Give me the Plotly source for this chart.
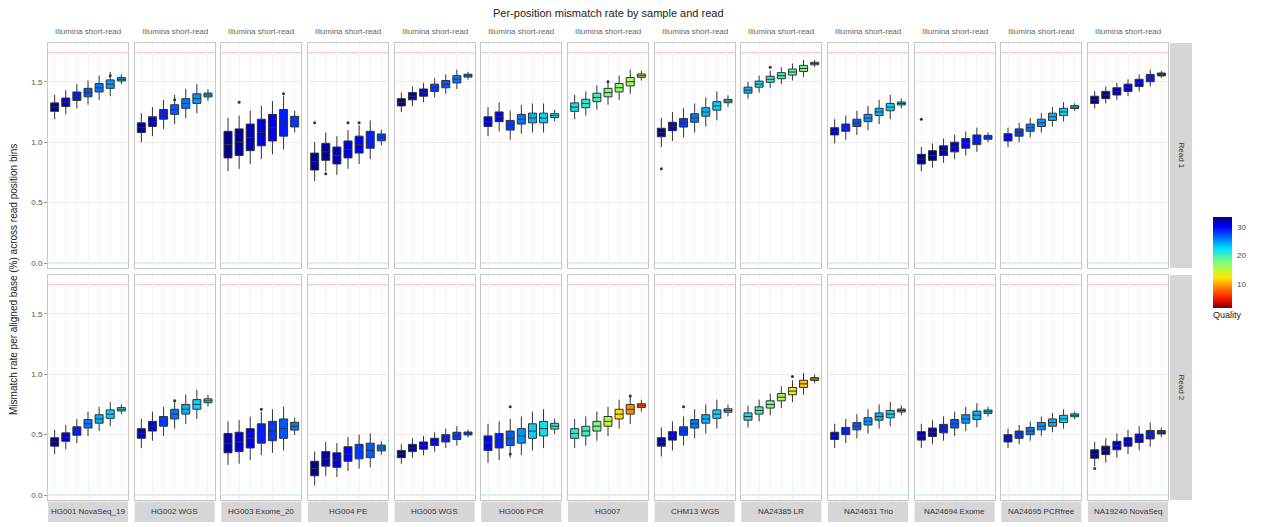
import plotly.graph_objects as go
from plotly.subplots import make_subplots

# ---------------- data ----------------
title_text = "Per-position mismatch rate by sample and read"
y_title = "Mismatch rate per aligned base (%) across read position bins"
top_strip = "Illumina short-read"
row_labels = ["Read 1", "Read 2"]
panels = ["HG001 NovaSeq_19", "HG002 WGS", "HG003 Exome_20", "HG004 PE",
          "HG005 WGS", "HG006 PCR", "HG007", "CHM13 WGS", "NA24385 LR",
          "NA24631 Trio", "NA24694 Exome", "NA24695 PCRfree", "NA19240 NovaSeq"]
bins = [1, 2, 3, 4, 5, 6, 7]
y_ticks = [0, 0.5, 1.0, 1.5]
y_tick_text = ["0.0", "0.5", "1.0", "1.5"]
ref_low = 0.0
ref_high = 1.74

med_r1 = [
    [1.29, 1.33, 1.38, 1.41, 1.45, 1.48, 1.52],
    [1.12, 1.17, 1.23, 1.27, 1.32, 1.36, 1.39],
    [0.98, 1.00, 1.04, 1.08, 1.12, 1.16, 1.17],
    [0.84, 0.92, 0.89, 0.94, 0.98, 1.02, 1.04],
    [1.33, 1.38, 1.41, 1.45, 1.48, 1.52, 1.55],
    [1.17, 1.21, 1.14, 1.19, 1.20, 1.20, 1.22],
    [1.29, 1.32, 1.37, 1.41, 1.45, 1.50, 1.55],
    [1.08, 1.13, 1.16, 1.20, 1.25, 1.30, 1.34],
    [1.43, 1.48, 1.52, 1.55, 1.58, 1.61, 1.65],
    [1.09, 1.12, 1.16, 1.20, 1.25, 1.29, 1.32],
    [0.86, 0.89, 0.93, 0.96, 0.99, 1.02, 1.04],
    [1.04, 1.08, 1.12, 1.16, 1.21, 1.25, 1.29],
    [1.35, 1.39, 1.42, 1.45, 1.49, 1.53, 1.56],
]
med_r2 = [
    [0.44, 0.48, 0.53, 0.59, 0.63, 0.67, 0.71],
    [0.51, 0.57, 0.61, 0.67, 0.71, 0.75, 0.78],
    [0.43, 0.44, 0.47, 0.51, 0.53, 0.55, 0.57],
    [0.22, 0.30, 0.29, 0.34, 0.36, 0.37, 0.39],
    [0.34, 0.39, 0.41, 0.44, 0.47, 0.49, 0.51],
    [0.43, 0.45, 0.47, 0.49, 0.53, 0.55, 0.57],
    [0.51, 0.53, 0.57, 0.61, 0.67, 0.71, 0.74],
    [0.44, 0.49, 0.53, 0.59, 0.63, 0.67, 0.70],
    [0.65, 0.70, 0.75, 0.81, 0.86, 0.92, 0.96],
    [0.49, 0.53, 0.57, 0.61, 0.65, 0.67, 0.70],
    [0.49, 0.52, 0.55, 0.59, 0.63, 0.66, 0.69],
    [0.47, 0.50, 0.53, 0.57, 0.60, 0.63, 0.66],
    [0.34, 0.37, 0.41, 0.44, 0.47, 0.50, 0.52],
]
# half box heights (IQR / 2) per panel
iqr_r1 = [0.035, 0.04, 0.11, 0.07, 0.03, 0.04, 0.035, 0.035, 0.025, 0.03, 0.04, 0.03, 0.03]
iqr_r2 = [0.035, 0.04, 0.08, 0.06, 0.03, 0.06, 0.04, 0.035, 0.03, 0.03, 0.035, 0.03, 0.035]
# whisker reach per panel
wsk_r1 = [0.10, 0.12, 0.22, 0.16, 0.08, 0.12, 0.10, 0.12, 0.07, 0.10, 0.10, 0.08, 0.07]
wsk_r2 = [0.10, 0.12, 0.18, 0.14, 0.08, 0.16, 0.12, 0.12, 0.09, 0.10, 0.10, 0.08, 0.10]
# mean quality (colour) per box
q_r1 = [
    [33, 31, 29, 27, 26, 25, 24],
    [33, 31, 29, 27, 26, 25, 24],
    [33, 33, 32, 31, 30, 29, 28],
    [33, 33, 32, 31, 30, 29, 28],
    [33, 32, 30, 28, 27, 26, 25],
    [31, 30, 28, 26, 24, 23, 22],
    [22, 21, 20, 18, 17, 16, 15],
    [32, 30, 28, 26, 24, 23, 22],
    [24, 22, 21, 20, 19, 18, 18],
    [31, 29, 27, 25, 24, 23, 22],
    [33, 33, 32, 31, 30, 29, 28],
    [30, 28, 26, 25, 24, 23, 22],
    [33, 33, 32, 31, 30, 29, 28],
]
q_r2 = [
    [33, 31, 29, 26, 24, 23, 22],
    [32, 30, 28, 26, 24, 23, 22],
    [32, 31, 30, 29, 28, 27, 26],
    [33, 32, 31, 30, 28, 27, 26],
    [33, 32, 31, 30, 29, 28, 27],
    [30, 29, 27, 25, 23, 22, 21],
    [21, 20, 18, 15, 12, 9, 7],
    [32, 30, 28, 26, 24, 23, 22],
    [22, 20, 18, 16, 13, 11, 10],
    [31, 29, 27, 25, 24, 23, 22],
    [32, 31, 29, 27, 25, 24, 23],
    [30, 28, 26, 25, 24, 23, 22],
    [33, 33, 32, 31, 30, 29, 28],
]
# outliers: (row, panel index, bin, value)
outliers = [
    (1, 1, 4, 1.35), (1, 2, 2, 1.33), (1, 2, 6, 1.40), (1, 3, 1, 1.16), (1, 3, 4, 1.16),
    (1, 3, 5, 1.16), (1, 3, 2, 0.74), (1, 6, 4, 1.50), (1, 7, 1, 0.78), (1, 10, 1, 1.19),
    (1, 0, 6, 1.55), (1, 8, 3, 1.62),
    (2, 1, 4, 0.78), (2, 2, 4, 0.71), (2, 5, 3, 0.73), (2, 5, 3, 0.34), (2, 7, 3, 0.73),
    (2, 12, 1, 0.22), (2, 8, 5, 0.98), (2, 6, 6, 0.82),
]
q_min, q_max = 1.5, 33.5
q_ticks = [10, 20, 30]
q_title = "Quality"

# ---------------- colours ----------------
jet = [[0.0, "#00007f"], [0.11, "#0000ff"], [0.34, "#00dcff"], [0.5, "#7dff7a"],
       [0.66, "#ffea00"], [0.89, "#ff1a00"], [1.0, "#7f0000"]]
jet_r = [[round(1 - p, 4), c] for p, c in reversed(jet)]


def hex2rgb(h):
    h = h.lstrip("#")
    return tuple(int(h[i:i + 2], 16) for i in (0, 2, 4))


def qcolor(v):
    f = min(max((v - q_min) / (q_max - q_min), 0), 1)
    for (p0, c0), (p1, c1) in zip(jet_r[:-1], jet_r[1:]):
        if p0 <= f <= p1:
            t = 0 if p1 == p0 else (f - p0) / (p1 - p0)
            a, b = hex2rgb(c0), hex2rgb(c1)
            return "rgb(%d,%d,%d)" % tuple(round(a[i] + (b[i] - a[i]) * t) for i in range(3))
    return jet_r[-1][1]


# ---------------- figure ----------------
OFF = 8  # page body margin
W, H = 1270 - OFF, 527 - OFF
ml, mt = 48 - OFF, 43 - OFF
mr = W - (1168 - OFF)
mb = H - (500 - OFF)
pw, ph = W - ml - mr, H - mt - mb
ncol = len(panels)


def px_x(page_x):
    return (page_x - OFF - ml) / pw


def px_y(page_y):
    return (H - mb - (page_y - OFF)) / ph


fig = make_subplots(rows=2, cols=ncol, horizontal_spacing=6.67 / pw, vertical_spacing=7 / ph)

rows_data = [(med_r1, iqr_r1, wsk_r1, q_r1), (med_r2, iqr_r2, wsk_r2, q_r2)]
for r, (meds, iqrs, wsks, qs) in enumerate(rows_data, start=1):
    for c in range(ncol):
        for i, b in enumerate(bins):
            m = meds[c][i]
            h = iqrs[c] if i < len(bins) - 1 else iqrs[c] * 0.4
            w = wsks[c] if i < len(bins) - 1 else wsks[c] * 0.4
            fig.add_trace(go.Box(
                x=[b], q1=[m - h], median=[m], q3=[m + h],
                lowerfence=[m - w], upperfence=[m + w],
                fillcolor=qcolor(qs[c][i]), line=dict(color="#333333", width=1),
                width=0.72, whiskerwidth=0, boxpoints=False, showlegend=False,
                hoverinfo="skip"), row=r, col=c + 1)

for r in (1, 2):
    for c in range(ncol):
        pts = [(b, v) for (rr, p, b, v) in outliers if rr == r and p == c]
        if pts:
            fig.add_trace(go.Scatter(x=[p[0] for p in pts], y=[p[1] for p in pts], mode="markers",
                                     marker=dict(color="#333333", size=3), showlegend=False,
                                     hoverinfo="skip"), row=r, col=c + 1)

# reference lines
for r in (1, 2):
    for c in range(ncol):
        k = (r - 1) * ncol + c + 1
        ax = "" if k == 1 else str(k)
        for val, col in ((ref_low, "#b9dcc4"), (ref_high, "#f6c6cf")):
            fig.add_shape(type="line", xref="x%s domain" % ax, x0=0, x1=1,
                          yref="y%s" % ax, y0=val, y1=val, line=dict(color=col, width=1.2),
                          layer="below")

# colour bar via dummy trace
fig.add_trace(go.Scatter(
    x=[None], y=[None], mode="markers", showlegend=False, hoverinfo="skip",
    marker=dict(color=[q_min], colorscale=jet_r, cmin=q_min, cmax=q_max, showscale=True,
                colorbar=dict(x=px_x(1213), xanchor="left", xpad=0, ypad=0,
                              y=px_y(217), yanchor="top", len=(323 - 217) / ph,
                              lenmode="fraction", thickness=19, outlinewidth=0,
                              tickvals=q_ticks, ticks="outside", ticklen=4, tickcolor="white",
                              tickfont=dict(size=8, color="#4d4d4d"),
                              title=dict(text=q_title, side="bottom",
                                         font=dict(size=9, color="#222222"))))),
    row=1, col=1)

fig.update_xaxes(range=[0.4, 7.6], showticklabels=False, ticks="", showgrid=True,
                 gridcolor="#f2f2f2", zeroline=False, showline=True, linecolor="#c8c8c8",
                 linewidth=1, mirror=True, tickvals=bins)
fig.update_yaxes(range=[-0.04, 1.82], tickvals=y_ticks, ticktext=y_tick_text, showgrid=True,
                 gridcolor="#ececec", zeroline=False, showline=True, linecolor="#c8c8c8",
                 linewidth=1, mirror=True, showticklabels=False, ticks="")
for r in (1, 2):
    fig.update_yaxes(showticklabels=True, ticks="outside", ticklen=3, tickcolor="#999999",
                     tickfont=dict(size=8, color="#555555"), row=r, col=1)

annos = []
# column strips
for c in range(ncol):
    k = c + 1
    ax = "" if k == 1 else str(k)
    dom = fig.layout["xaxis%s" % ax].domain
    xc = (dom[0] + dom[1]) / 2
    annos.append(dict(x=xc, y=px_y(32), xref="paper", yref="paper", text=top_strip,
                      showarrow=False, font=dict(size=8, color="#666666"),
                      xanchor="center", yanchor="middle"))
    fig.add_shape(type="rect", xref="paper", yref="paper", x0=dom[0], x1=dom[1],
                  y0=px_y(501.5), y1=px_y(522), fillcolor="#d6d6d6", line=dict(width=0))
    annos.append(dict(x=xc, y=px_y(511.5), xref="paper", yref="paper", text=panels[c],
                      showarrow=False, font=dict(size=8, color="#333333"),
                      xanchor="center", yanchor="middle"))
# row strips
for r in (1, 2):
    k = (r - 1) * ncol + 1
    ax = "" if k == 1 else str(k)
    dom = fig.layout["yaxis%s" % ax].domain
    fig.add_shape(type="rect", xref="paper", yref="paper", x0=px_x(1170), x1=px_x(1192),
                  y0=dom[0], y1=dom[1], fillcolor="#d6d6d6", line=dict(width=0))
    annos.append(dict(x=px_x(1181), y=(dom[0] + dom[1]) / 2, xref="paper", yref="paper",
                      text=row_labels[r - 1], textangle=90, showarrow=False,
                      font=dict(size=8, color="#333333"), xanchor="center", yanchor="middle"))
# titles
annos.append(dict(x=px_x(608), y=px_y(13), xref="paper", yref="paper",
                  text=title_text, showarrow=False, font=dict(size=11, color="#222222"),
                  xanchor="center", yanchor="middle"))
annos.append(dict(x=px_x(13), y=px_y(280), xref="paper", yref="paper", text=y_title,
                  textangle=-90, showarrow=False, font=dict(size=10, color="#222222"),
                  xanchor="center", yanchor="middle"))

fig.update_layout(width=W, height=H, margin=dict(l=ml, r=mr, t=mt, b=mb, autoexpand=False),
                  paper_bgcolor="white", plot_bgcolor="white",
                  font=dict(family="Liberation Sans, Arial, sans-serif"),
                  annotations=annos, boxgap=0.1)

fig.write_html("out.html")
